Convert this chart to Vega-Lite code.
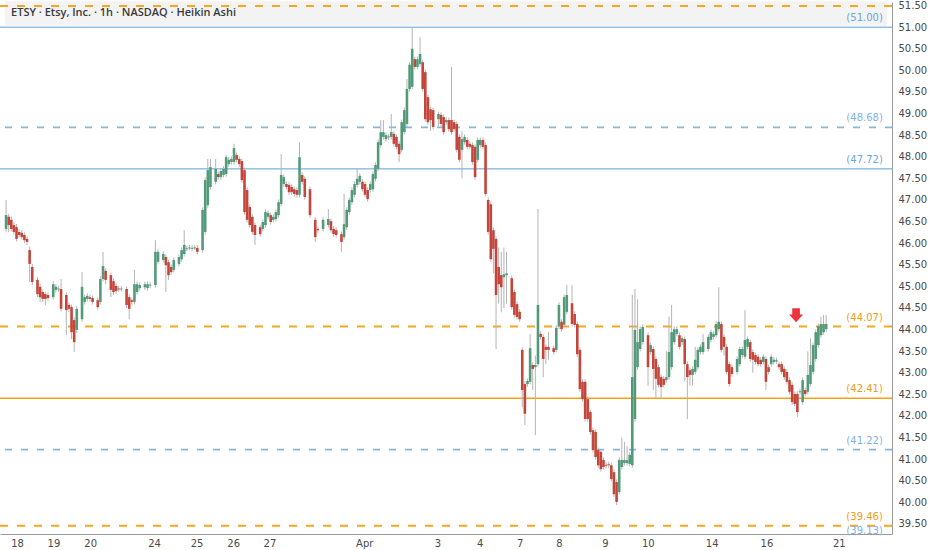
{
  "$schema": "https://vega.github.io/schema/vega-lite/v6.json",
  "width": 892,
  "height": 532,
  "padding": 0,
  "background": "#ffffff",
  "config": {"view": {"stroke": null}, "font": "DejaVu Sans", "axis": {"labelOverlap": false, "labelFlush": false}},
  "datasets": {
    "candles": [
      {"t":0,"o":46.33,"h":47.00,"l":46.25,"c":46.65},
      {"t":1,"o":46.61,"h":46.68,"l":46.26,"c":46.42},
      {"t":2,"o":46.54,"h":46.62,"l":46.27,"c":46.33},
      {"t":3,"o":46.42,"h":46.48,"l":46.20,"c":46.26},
      {"t":4,"o":46.37,"h":46.44,"l":46.04,"c":46.10},
      {"t":5,"o":46.26,"h":46.32,"l":46.12,"c":46.19},
      {"t":6,"o":46.24,"h":46.30,"l":46.08,"c":46.14},
      {"t":7,"o":46.19,"h":46.25,"l":46.00,"c":46.07},
      {"t":8,"o":46.10,"h":46.16,"l":45.96,"c":46.03},
      {"t":9,"o":45.84,"h":45.92,"l":45.10,"c":45.52},
      {"t":10,"o":45.45,"h":45.52,"l":45.03,"c":45.10},
      {"t":12,"o":45.15,"h":45.22,"l":44.75,"c":44.82},
      {"t":13,"o":44.99,"h":45.06,"l":44.64,"c":44.75},
      {"t":14,"o":44.87,"h":44.93,"l":44.64,"c":44.71},
      {"t":15,"o":44.82,"h":44.88,"l":44.57,"c":44.71},
      {"t":16,"o":44.80,"h":44.86,"l":44.67,"c":44.73},
      {"t":18,"o":44.75,"h":45.12,"l":44.69,"c":45.05},
      {"t":19,"o":44.92,"h":45.05,"l":44.86,"c":44.99},
      {"t":20,"o":44.93,"h":45.01,"l":44.87,"c":44.95},
      {"t":21,"o":44.94,"h":45.17,"l":44.42,"c":44.48},
      {"t":23,"o":44.80,"h":44.86,"l":43.87,"c":44.45},
      {"t":24,"o":44.57,"h":44.63,"l":44.40,"c":44.48},
      {"t":25,"o":44.52,"h":44.58,"l":43.78,"c":43.94},
      {"t":26,"o":44.22,"h":44.28,"l":43.48,"c":43.71},
      {"t":27,"o":43.99,"h":44.55,"l":43.92,"c":44.48},
      {"t":29,"o":44.24,"h":45.33,"l":44.18,"c":44.99},
      {"t":30,"o":44.64,"h":44.81,"l":44.58,"c":44.75},
      {"t":31,"o":44.71,"h":44.84,"l":44.65,"c":44.78},
      {"t":32,"o":44.75,"h":44.81,"l":44.65,"c":44.71},
      {"t":33,"o":44.73,"h":44.79,"l":44.58,"c":44.64},
      {"t":35,"o":44.68,"h":44.74,"l":44.46,"c":44.52},
      {"t":36,"o":44.64,"h":45.23,"l":44.58,"c":45.17},
      {"t":37,"o":45.17,"h":45.80,"l":45.11,"c":45.47},
      {"t":38,"o":45.36,"h":45.42,"l":45.05,"c":45.15},
      {"t":40,"o":45.26,"h":45.32,"l":44.75,"c":44.92},
      {"t":41,"o":45.12,"h":45.18,"l":44.80,"c":44.87},
      {"t":42,"o":45.01,"h":45.07,"l":44.83,"c":44.89},
      {"t":43,"o":44.95,"h":45.01,"l":44.87,"c":44.93},
      {"t":44,"o":44.93,"h":45.01,"l":44.88,"c":44.95},
      {"t":46,"o":44.94,"h":45.00,"l":44.50,"c":44.57},
      {"t":47,"o":44.75,"h":44.81,"l":44.24,"c":44.48},
      {"t":48,"o":44.68,"h":44.74,"l":44.58,"c":44.64},
      {"t":49,"o":44.64,"h":45.38,"l":44.58,"c":45.05},
      {"t":50,"o":44.87,"h":45.11,"l":44.81,"c":45.05},
      {"t":51,"o":44.96,"h":45.09,"l":44.90,"c":45.03},
      {"t":53,"o":44.98,"h":45.11,"l":44.92,"c":45.05},
      {"t":54,"o":44.96,"h":45.11,"l":44.90,"c":45.05},
      {"t":55,"o":45.02,"h":45.10,"l":44.96,"c":45.04},
      {"t":57,"o":45.03,"h":46.07,"l":44.97,"c":45.80},
      {"t":58,"o":45.57,"h":45.86,"l":45.51,"c":45.80},
      {"t":60,"o":45.61,"h":45.81,"l":45.55,"c":45.75},
      {"t":61,"o":45.68,"h":45.74,"l":44.87,"c":45.49},
      {"t":62,"o":45.56,"h":45.62,"l":45.15,"c":45.26},
      {"t":63,"o":45.45,"h":45.51,"l":45.27,"c":45.33},
      {"t":64,"o":45.38,"h":45.67,"l":45.32,"c":45.61},
      {"t":66,"o":45.52,"h":45.74,"l":45.46,"c":45.68},
      {"t":67,"o":45.63,"h":45.90,"l":45.57,"c":45.84},
      {"t":68,"o":45.75,"h":46.30,"l":45.69,"c":45.96},
      {"t":69,"o":45.86,"h":45.94,"l":45.82,"c":45.88},
      {"t":70,"o":45.88,"h":45.96,"l":45.84,"c":45.90},
      {"t":71,"o":45.87,"h":45.95,"l":45.81,"c":45.89},
      {"t":72,"o":45.88,"h":45.96,"l":45.84,"c":45.90},
      {"t":73,"o":45.89,"h":45.95,"l":45.74,"c":45.80},
      {"t":75,"o":45.84,"h":46.83,"l":45.78,"c":46.77},
      {"t":76,"o":46.26,"h":47.52,"l":46.20,"c":47.46},
      {"t":77,"o":46.88,"h":47.95,"l":46.82,"c":47.69},
      {"t":78,"o":47.30,"h":47.95,"l":47.24,"c":47.76},
      {"t":80,"o":47.42,"h":47.95,"l":47.36,"c":47.72},
      {"t":81,"o":47.60,"h":47.66,"l":47.47,"c":47.53},
      {"t":82,"o":47.53,"h":47.73,"l":47.47,"c":47.67},
      {"t":83,"o":47.58,"h":47.78,"l":47.52,"c":47.72},
      {"t":84,"o":47.60,"h":48.05,"l":47.54,"c":47.99},
      {"t":85,"o":47.83,"h":47.99,"l":47.77,"c":47.93},
      {"t":86,"o":47.88,"h":48.01,"l":47.82,"c":47.95},
      {"t":87,"o":47.88,"h":48.30,"l":47.82,"c":48.20},
      {"t":88,"o":48.04,"h":48.10,"l":47.87,"c":47.93},
      {"t":89,"o":47.95,"h":48.01,"l":47.77,"c":47.83},
      {"t":90,"o":47.90,"h":47.96,"l":47.40,"c":47.46},
      {"t":91,"o":47.69,"h":47.75,"l":46.66,"c":46.72},
      {"t":92,"o":47.23,"h":47.29,"l":46.48,"c":46.54},
      {"t":93,"o":46.84,"h":46.90,"l":46.36,"c":46.42},
      {"t":94,"o":46.61,"h":46.67,"l":46.20,"c":46.26},
      {"t":95,"o":46.42,"h":46.48,"l":45.96,"c":46.19},
      {"t":97,"o":46.37,"h":46.43,"l":46.15,"c":46.21},
      {"t":98,"o":46.33,"h":46.55,"l":46.27,"c":46.49},
      {"t":99,"o":46.42,"h":46.78,"l":46.36,"c":46.72},
      {"t":100,"o":46.61,"h":46.76,"l":46.55,"c":46.70},
      {"t":101,"o":46.65,"h":46.71,"l":46.43,"c":46.49},
      {"t":102,"o":46.54,"h":46.67,"l":46.48,"c":46.61},
      {"t":103,"o":46.56,"h":46.78,"l":46.50,"c":46.72},
      {"t":104,"o":46.65,"h":47.01,"l":46.59,"c":46.95},
      {"t":105,"o":46.91,"h":48.06,"l":46.85,"c":47.58},
      {"t":106,"o":47.37,"h":47.59,"l":47.31,"c":47.53},
      {"t":107,"o":47.37,"h":47.43,"l":47.24,"c":47.30},
      {"t":108,"o":47.35,"h":47.41,"l":47.12,"c":47.18},
      {"t":109,"o":47.30,"h":47.36,"l":47.12,"c":47.18},
      {"t":110,"o":47.25,"h":47.31,"l":47.08,"c":47.14},
      {"t":111,"o":47.23,"h":47.29,"l":47.06,"c":47.12},
      {"t":112,"o":47.12,"h":48.34,"l":47.06,"c":47.99},
      {"t":113,"o":47.58,"h":47.64,"l":47.36,"c":47.42},
      {"t":114,"o":47.49,"h":47.55,"l":47.01,"c":47.07},
      {"t":116,"o":47.25,"h":47.31,"l":46.59,"c":46.65},
      {"t":118,"o":46.54,"h":46.60,"l":46.03,"c":46.14},
      {"t":119,"o":46.33,"h":46.39,"l":46.24,"c":46.30},
      {"t":121,"o":46.33,"h":46.60,"l":46.27,"c":46.54},
      {"t":123,"o":46.42,"h":46.79,"l":46.36,"c":46.56},
      {"t":124,"o":46.51,"h":46.57,"l":46.24,"c":46.30},
      {"t":125,"o":46.33,"h":46.39,"l":46.15,"c":46.21},
      {"t":126,"o":46.30,"h":46.36,"l":46.13,"c":46.19},
      {"t":128,"o":46.21,"h":46.27,"l":45.80,"c":46.03},
      {"t":129,"o":46.14,"h":47.14,"l":46.08,"c":46.44},
      {"t":130,"o":46.37,"h":46.83,"l":46.31,"c":46.77},
      {"t":131,"o":46.72,"h":47.06,"l":46.66,"c":47.00},
      {"t":132,"o":46.95,"h":47.29,"l":46.89,"c":47.23},
      {"t":133,"o":47.12,"h":47.43,"l":47.06,"c":47.37},
      {"t":134,"o":47.35,"h":47.72,"l":47.29,"c":47.49},
      {"t":135,"o":47.42,"h":47.62,"l":47.36,"c":47.56},
      {"t":136,"o":47.42,"h":47.48,"l":47.19,"c":47.25},
      {"t":137,"o":47.37,"h":47.43,"l":47.06,"c":47.12},
      {"t":138,"o":47.23,"h":47.29,"l":46.96,"c":47.02},
      {"t":139,"o":47.23,"h":47.43,"l":47.17,"c":47.37},
      {"t":140,"o":47.25,"h":47.66,"l":47.19,"c":47.60},
      {"t":141,"o":47.49,"h":47.87,"l":47.43,"c":47.81},
      {"t":142,"o":47.72,"h":48.40,"l":47.66,"c":48.34},
      {"t":143,"o":48.27,"h":48.85,"l":48.21,"c":48.57},
      {"t":144,"o":48.46,"h":48.85,"l":48.40,"c":48.57},
      {"t":145,"o":48.41,"h":48.56,"l":48.35,"c":48.50},
      {"t":146,"o":48.45,"h":48.53,"l":48.39,"c":48.47},
      {"t":147,"o":48.46,"h":48.99,"l":48.40,"c":48.57},
      {"t":148,"o":48.53,"h":48.59,"l":48.24,"c":48.30},
      {"t":149,"o":48.46,"h":48.52,"l":48.17,"c":48.23},
      {"t":150,"o":48.30,"h":48.36,"l":47.88,"c":48.06},
      {"t":151,"o":48.16,"h":48.86,"l":48.10,"c":48.80},
      {"t":152,"o":48.57,"h":49.14,"l":48.51,"c":49.08},
      {"t":153,"o":48.76,"h":49.80,"l":48.70,"c":49.57},
      {"t":154,"o":49.57,"h":50.19,"l":49.51,"c":50.13},
      {"t":155,"o":49.62,"h":51.00,"l":49.56,"c":50.50},
      {"t":156,"o":50.26,"h":50.32,"l":50.02,"c":50.08},
      {"t":157,"o":50.08,"h":50.32,"l":50.02,"c":50.26},
      {"t":158,"o":50.15,"h":50.77,"l":50.09,"c":50.38},
      {"t":159,"o":50.19,"h":50.25,"l":49.51,"c":49.57},
      {"t":160,"o":49.96,"h":50.02,"l":48.81,"c":48.87},
      {"t":161,"o":49.38,"h":49.44,"l":48.74,"c":48.80},
      {"t":162,"o":49.10,"h":49.16,"l":48.60,"c":48.85},
      {"t":163,"o":49.08,"h":49.14,"l":48.63,"c":48.69},
      {"t":165,"o":48.87,"h":49.05,"l":48.70,"c":48.99},
      {"t":166,"o":48.97,"h":49.03,"l":48.70,"c":48.76},
      {"t":167,"o":48.92,"h":48.98,"l":48.51,"c":48.57},
      {"t":168,"o":48.80,"h":48.91,"l":48.74,"c":48.85},
      {"t":169,"o":48.85,"h":48.91,"l":48.58,"c":48.64},
      {"t":170,"o":48.85,"h":50.08,"l":48.51,"c":48.57},
      {"t":171,"o":48.80,"h":48.86,"l":48.58,"c":48.64},
      {"t":172,"o":48.76,"h":48.82,"l":48.10,"c":48.16},
      {"t":173,"o":48.46,"h":48.52,"l":47.87,"c":47.93},
      {"t":174,"o":48.16,"h":48.60,"l":47.50,"c":48.41},
      {"t":175,"o":48.34,"h":48.52,"l":48.28,"c":48.46},
      {"t":176,"o":48.39,"h":48.45,"l":48.17,"c":48.23},
      {"t":177,"o":48.30,"h":48.36,"l":48.17,"c":48.23},
      {"t":178,"o":48.27,"h":48.33,"l":47.82,"c":47.88},
      {"t":179,"o":48.23,"h":48.29,"l":47.47,"c":47.53},
      {"t":180,"o":47.93,"h":48.45,"l":47.87,"c":48.39},
      {"t":181,"o":48.27,"h":48.45,"l":48.21,"c":48.39},
      {"t":182,"o":48.39,"h":48.45,"l":48.17,"c":48.23},
      {"t":183,"o":48.27,"h":48.33,"l":47.08,"c":47.14},
      {"t":184,"o":47.00,"h":47.06,"l":46.20,"c":46.26},
      {"t":185,"o":46.90,"h":46.96,"l":45.57,"c":45.63},
      {"t":186,"o":46.30,"h":46.36,"l":45.30,"c":45.87},
      {"t":187,"o":46.10,"h":46.16,"l":43.55,"c":44.80},
      {"t":188,"o":45.45,"h":45.90,"l":44.60,"c":45.05},
      {"t":189,"o":45.26,"h":45.80,"l":44.40,"c":44.98},
      {"t":190,"o":45.21,"h":45.90,"l":44.50,"c":45.28},
      {"t":191,"o":45.26,"h":45.80,"l":44.60,"c":45.30},
      {"t":193,"o":45.19,"h":45.25,"l":44.46,"c":44.52},
      {"t":194,"o":44.87,"h":44.93,"l":44.28,"c":44.34},
      {"t":195,"o":44.59,"h":44.65,"l":44.23,"c":44.29},
      {"t":196,"o":44.41,"h":44.47,"l":44.18,"c":44.24},
      {"t":197,"o":43.53,"h":43.59,"l":42.20,"c":42.60},
      {"t":198,"o":42.74,"h":42.80,"l":41.79,"c":42.05},
      {"t":199,"o":42.74,"h":42.87,"l":42.68,"c":42.81},
      {"t":200,"o":42.79,"h":43.90,"l":42.73,"c":43.57},
      {"t":201,"o":43.18,"h":43.24,"l":42.60,"c":43.09},
      {"t":202,"o":43.13,"h":43.40,"l":41.56,"c":43.18},
      {"t":203,"o":43.20,"h":46.79,"l":43.14,"c":44.57},
      {"t":204,"o":43.90,"h":43.96,"l":43.77,"c":43.83},
      {"t":205,"o":43.83,"h":43.89,"l":42.90,"c":43.32},
      {"t":206,"o":43.60,"h":43.66,"l":43.20,"c":43.53},
      {"t":207,"o":43.60,"h":43.95,"l":43.30,"c":43.53},
      {"t":209,"o":43.57,"h":43.63,"l":43.42,"c":43.48},
      {"t":210,"o":43.53,"h":44.10,"l":43.47,"c":44.04},
      {"t":211,"o":44.07,"h":44.63,"l":44.01,"c":44.57},
      {"t":212,"o":44.18,"h":44.24,"l":43.95,"c":44.01},
      {"t":213,"o":44.11,"h":44.81,"l":44.05,"c":44.75},
      {"t":214,"o":44.41,"h":45.03,"l":44.35,"c":44.80},
      {"t":216,"o":44.61,"h":45.03,"l":44.07,"c":44.13},
      {"t":217,"o":44.36,"h":44.42,"l":44.05,"c":44.11},
      {"t":218,"o":44.13,"h":44.19,"l":43.37,"c":43.43},
      {"t":219,"o":43.53,"h":43.59,"l":42.56,"c":42.62},
      {"t":220,"o":42.79,"h":42.85,"l":42.33,"c":42.39},
      {"t":221,"o":42.79,"h":42.85,"l":41.87,"c":41.93},
      {"t":222,"o":42.39,"h":42.45,"l":41.87,"c":41.93},
      {"t":223,"o":42.09,"h":42.15,"l":41.57,"c":41.63},
      {"t":224,"o":41.67,"h":41.73,"l":41.15,"c":41.21},
      {"t":225,"o":41.63,"h":41.69,"l":40.99,"c":41.05},
      {"t":226,"o":41.21,"h":41.27,"l":40.80,"c":40.86},
      {"t":227,"o":41.17,"h":41.23,"l":40.71,"c":40.77},
      {"t":228,"o":40.98,"h":41.04,"l":40.76,"c":40.82},
      {"t":229,"o":40.87,"h":40.93,"l":40.79,"c":40.85},
      {"t":230,"o":40.88,"h":40.94,"l":40.80,"c":40.86},
      {"t":231,"o":40.86,"h":40.92,"l":40.48,"c":40.54},
      {"t":232,"o":40.70,"h":40.76,"l":40.13,"c":40.19},
      {"t":233,"o":40.47,"h":40.53,"l":39.94,"c":40.01},
      {"t":234,"o":40.24,"h":41.04,"l":40.18,"c":40.98},
      {"t":235,"o":40.82,"h":41.50,"l":40.76,"c":40.98},
      {"t":236,"o":40.91,"h":41.40,"l":40.85,"c":40.98},
      {"t":237,"o":40.91,"h":41.30,"l":40.85,"c":40.98},
      {"t":238,"o":40.89,"h":41.16,"l":40.83,"c":41.10},
      {"t":239,"o":40.86,"h":44.80,"l":40.80,"c":42.90},
      {"t":240,"o":41.93,"h":44.94,"l":41.87,"c":43.99},
      {"t":241,"o":43.13,"h":44.70,"l":43.07,"c":43.71},
      {"t":242,"o":43.55,"h":44.07,"l":43.49,"c":44.01},
      {"t":243,"o":43.71,"h":44.12,"l":43.65,"c":44.06},
      {"t":245,"o":43.87,"h":43.93,"l":42.70,"c":43.13},
      {"t":246,"o":43.48,"h":43.70,"l":43.42,"c":43.64},
      {"t":247,"o":43.55,"h":43.61,"l":42.60,"c":43.09},
      {"t":248,"o":43.32,"h":43.38,"l":42.40,"c":42.86},
      {"t":249,"o":43.13,"h":43.19,"l":42.66,"c":42.72},
      {"t":250,"o":42.90,"h":42.96,"l":42.40,"c":42.67},
      {"t":251,"o":42.86,"h":42.92,"l":42.66,"c":42.72},
      {"t":252,"o":42.83,"h":43.50,"l":42.77,"c":42.90},
      {"t":253,"o":42.90,"h":44.30,"l":42.84,"c":43.48},
      {"t":254,"o":43.13,"h":44.57,"l":43.07,"c":43.94},
      {"t":255,"o":43.71,"h":44.07,"l":43.65,"c":44.01},
      {"t":256,"o":43.90,"h":44.07,"l":43.84,"c":44.01},
      {"t":257,"o":43.87,"h":43.93,"l":43.54,"c":43.60},
      {"t":258,"o":43.71,"h":43.86,"l":43.65,"c":43.80},
      {"t":259,"o":43.78,"h":43.84,"l":42.80,"c":43.20},
      {"t":260,"o":43.20,"h":43.26,"l":41.93,"c":42.90},
      {"t":261,"o":43.06,"h":43.12,"l":42.70,"c":42.95},
      {"t":262,"o":42.95,"h":43.15,"l":42.70,"c":43.09},
      {"t":263,"o":43.02,"h":43.60,"l":42.96,"c":43.30},
      {"t":264,"o":43.13,"h":43.59,"l":43.07,"c":43.53},
      {"t":265,"o":43.48,"h":43.66,"l":43.42,"c":43.60},
      {"t":266,"o":43.48,"h":43.90,"l":43.42,"c":43.71},
      {"t":268,"o":43.55,"h":43.89,"l":43.49,"c":43.83},
      {"t":269,"o":43.76,"h":44.00,"l":43.70,"c":43.94},
      {"t":270,"o":43.83,"h":43.96,"l":43.77,"c":43.90},
      {"t":271,"o":43.87,"h":44.19,"l":43.81,"c":44.13},
      {"t":272,"o":44.01,"h":44.98,"l":43.95,"c":44.18},
      {"t":273,"o":44.13,"h":44.19,"l":43.47,"c":43.53},
      {"t":274,"o":43.83,"h":43.89,"l":43.40,"c":43.60},
      {"t":275,"o":43.60,"h":43.66,"l":42.96,"c":43.02},
      {"t":276,"o":43.20,"h":43.26,"l":42.68,"c":42.74},
      {"t":277,"o":43.13,"h":43.19,"l":42.91,"c":42.97},
      {"t":279,"o":43.02,"h":43.38,"l":42.96,"c":43.32},
      {"t":280,"o":43.20,"h":43.61,"l":43.14,"c":43.55},
      {"t":281,"o":43.41,"h":43.61,"l":43.35,"c":43.55},
      {"t":282,"o":43.37,"h":44.45,"l":43.31,"c":43.76},
      {"t":283,"o":43.60,"h":43.84,"l":43.54,"c":43.78},
      {"t":284,"o":43.71,"h":43.77,"l":43.26,"c":43.32},
      {"t":285,"o":43.48,"h":43.54,"l":43.00,"c":43.30},
      {"t":286,"o":43.41,"h":43.47,"l":43.19,"c":43.25},
      {"t":287,"o":43.37,"h":43.43,"l":43.14,"c":43.20},
      {"t":288,"o":43.30,"h":43.36,"l":43.14,"c":43.20},
      {"t":289,"o":43.25,"h":43.43,"l":43.19,"c":43.37},
      {"t":290,"o":43.32,"h":43.38,"l":42.60,"c":42.79},
      {"t":291,"o":43.13,"h":43.19,"l":42.96,"c":43.02},
      {"t":292,"o":43.20,"h":43.43,"l":43.14,"c":43.37},
      {"t":293,"o":43.25,"h":43.36,"l":43.19,"c":43.30},
      {"t":294,"o":43.26,"h":43.35,"l":43.20,"c":43.29},
      {"t":295,"o":43.20,"h":43.26,"l":43.07,"c":43.13},
      {"t":296,"o":43.20,"h":43.26,"l":42.96,"c":43.02},
      {"t":297,"o":43.09,"h":43.15,"l":42.84,"c":42.90},
      {"t":298,"o":43.02,"h":43.08,"l":42.73,"c":42.79},
      {"t":299,"o":42.83,"h":42.89,"l":42.50,"c":42.56},
      {"t":300,"o":42.72,"h":42.78,"l":42.26,"c":42.32},
      {"t":301,"o":42.51,"h":42.57,"l":42.22,"c":42.28},
      {"t":302,"o":42.51,"h":42.57,"l":41.98,"c":42.09},
      {"t":303,"o":42.55,"h":42.63,"l":42.49,"c":42.57},
      {"t":304,"o":42.32,"h":42.89,"l":42.26,"c":42.83},
      {"t":305,"o":42.60,"h":42.66,"l":42.45,"c":42.51},
      {"t":306,"o":42.56,"h":43.50,"l":42.50,"c":42.95},
      {"t":307,"o":42.74,"h":43.80,"l":42.68,"c":43.18},
      {"t":308,"o":43.02,"h":43.70,"l":42.96,"c":43.64},
      {"t":309,"o":43.32,"h":44.00,"l":43.26,"c":43.94},
      {"t":310,"o":43.64,"h":44.14,"l":43.58,"c":44.08},
      {"t":311,"o":43.87,"h":44.30,"l":43.81,"c":44.13},
      {"t":312,"o":43.94,"h":44.34,"l":43.88,"c":44.13},
      {"t":313,"o":44.01,"h":44.34,"l":43.95,"c":44.13}
    ],
    "levels": [
      {"price":51.49,"kind":"orange-dashed","label":""},
      {"price":51.00,"kind":"blue-solid","label":"(51.00)"},
      {"price":48.68,"kind":"blue-dashed","label":"(48.68)"},
      {"price":47.72,"kind":"blue-solid","label":"(47.72)"},
      {"price":44.07,"kind":"orange-dashed","label":"(44.07)"},
      {"price":42.41,"kind":"orange-solid","label":"(42.41)"},
      {"price":41.22,"kind":"blue-dashed","label":"(41.22)"},
      {"price":39.46,"kind":"orange-dashed","label":"(39.46)"},
      {"price":39.13,"kind":"blue-dashed","label":"(39.13)"}
    ],
    "signals": [
      {"t":301.5,"p":44.33,"signal":"sell"}
    ],
    "header": [
      {"text":"ETSY · Etsy, Inc. · 1h · NASDAQ · Heikin Ashi"}
    ]
  },
  "layer": [
    {
      "data": {"name": "header"},
      "mark": {"type": "rect", "color": "#f3f3f3"},
      "encoding": {
        "x": {"datum": -0.4, "type": "quantitative", "title": null,
          "scale": {"domain": [-0.4, 336.2], "nice": false, "zero": false},
          "axis": {
            "orient": "bottom",
            "values": [4.2, 18.1, 32.1, 56.5, 72.7, 86.7, 100.5, 136.7, 164.6, 180.8, 196, 211, 228.6, 244.9, 269.3, 290.2, 317.8],
            "tickCount": 40,
            "labelExpr": "['18','19','20','24','25','26','27','Apr','3','4','7','8','9','10','14','16','21'][indexof([4.2, 18.1, 32.1, 56.5, 72.7, 86.7, 100.5, 136.7, 164.6, 180.8, 196, 211, 228.6, 244.9, 269.3, 290.2, 317.8], datum.value)]",
            "labelFontWeight": {"condition": {"test": "datum.label == 'Apr'", "value": "bold"}, "value": "normal"},
            "grid": false, "ticks": false, "domainColor": "#9a9a9a", "domainWidth": 1,
            "labelColor": "#4a4a4a", "labelFontSize": 10, "labelPadding": 4,
            "labelOverlap": false, "labelFlush": false,
            "minExtent": 18, "maxExtent": 18, "title": null
          }
        },
        "x2": {"datum": 336.2},
        "y": {"datum": 51.6, "type": "quantitative", "title": null,
          "scale": {"domain": [39.268, 51.583], "nice": false, "zero": false},
          "axis": {
            "orient": "right",
            "values": [39.5, 40, 40.5, 41, 41.5, 42, 42.5, 43, 43.5, 44, 44.5, 45, 45.5, 46, 46.5, 47, 47.5, 48, 48.5, 49, 49.5, 50, 50.5, 51, 51.5],
            "tickCount": 40,
            "format": ".2f",
            "grid": false, "ticks": false, "domainColor": "#9a9a9a", "domainWidth": 1,
            "labelColor": "#4a4a4a", "labelFontSize": 10, "labelPadding": 6,
            "labelOverlap": false, "labelFlush": false, "labelBound": false,
            "minExtent": 40, "maxExtent": 40, "title": null
          }
        },
        "y2": {"datum": 51.04}
      }
    },
    {
      "data": {"name": "levels"},
      "transform": [{"filter": "datum.kind == 'blue-solid'"}],
      "mark": {"type": "rule", "clip": true, "color": "#5b9fdc", "strokeWidth": 1},
      "encoding": {"y": {"field": "price", "type": "quantitative", "title": null}}
    },
    {
      "data": {"name": "levels"},
      "transform": [{"filter": "datum.kind == 'blue-dashed'"}],
      "mark": {"type": "rule", "clip": true, "color": "#84b6e8", "strokeWidth": 1.6, "strokeDash": [7, 9]},
      "encoding": {"y": {"field": "price", "type": "quantitative", "title": null}}
    },
    {
      "data": {"name": "levels"},
      "transform": [{"filter": "datum.kind == 'orange-solid'"}],
      "mark": {"type": "rule", "clip": true, "color": "#f5a116", "strokeWidth": 1.5},
      "encoding": {"y": {"field": "price", "type": "quantitative", "title": null}}
    },
    {
      "data": {"name": "levels"},
      "transform": [{"filter": "datum.kind == 'orange-dashed'"}],
      "mark": {"type": "rule", "clip": true, "color": "#f5a623", "strokeWidth": 2, "strokeDash": [8, 9]},
      "encoding": {"y": {"field": "price", "type": "quantitative", "title": null}}
    },
    {
      "data": {"name": "candles"},
      "mark": {"type": "rule", "color": "#b4b4b4", "strokeWidth": 1, "clip": true},
      "encoding": {
        "x": {"field": "t", "type": "quantitative", "title": null},
        "y": {"field": "l", "type": "quantitative", "title": null},
        "y2": {"field": "h"}
      }
    },
    {
      "data": {"name": "candles"},
      "mark": {"type": "bar", "width": 2.6, "clip": true},
      "encoding": {
        "x": {"field": "t", "type": "quantitative", "title": null},
        "y": {"field": "o", "type": "quantitative", "title": null},
        "y2": {"field": "c"},
        "color": {"condition": {"test": "datum.c >= datum.o", "value": "#539a7b"}, "value": "#c4463a"}
      }
    },
    {
      "data": {"name": "header"},
      "mark": {"type": "text", "align": "left", "baseline": "middle", "fontSize": 11, "font": "Open Sans", "fontWeight": 600, "color": "#3a3a3a"},
      "encoding": {
        "x": {"datum": 1.9, "type": "quantitative"},
        "y": {"datum": 51.33, "type": "quantitative"},
        "text": {"field": "text"}
      }
    },
    {
      "data": {"name": "levels"},
      "transform": [{"filter": "datum.label != ''"}],
      "mark": {"type": "text", "align": "right", "baseline": "middle", "dy": -9, "fontSize": 10},
      "encoding": {
        "x": {"datum": 334.6, "type": "quantitative"},
        "y": {"field": "price", "type": "quantitative", "title": null},
        "text": {"field": "label"},
        "color": {"field": "kind", "type": "nominal", "legend": null,
          "scale": {"domain": ["blue-solid", "blue-dashed", "orange-solid", "orange-dashed"], "range": ["#6aa7df", "#7fb2e5", "#f39c12", "#f39c12"]}}
      }
    },
    {
      "data": {"name": "signals"},
      "mark": {"type": "point", "filled": true, "size": 196, "opacity": 1, "strokeWidth": 0, "color": "#f0323f",
        "shape": "M-0.55,-1 L0.55,-1 L0.55,-0.1 L1,-0.1 L0,1 L-1,-0.1 L-0.55,-0.1 Z"},
      "encoding": {
        "x": {"field": "t", "type": "quantitative", "title": null},
        "y": {"field": "p", "type": "quantitative", "title": null}
      }
    }
  ]
}
